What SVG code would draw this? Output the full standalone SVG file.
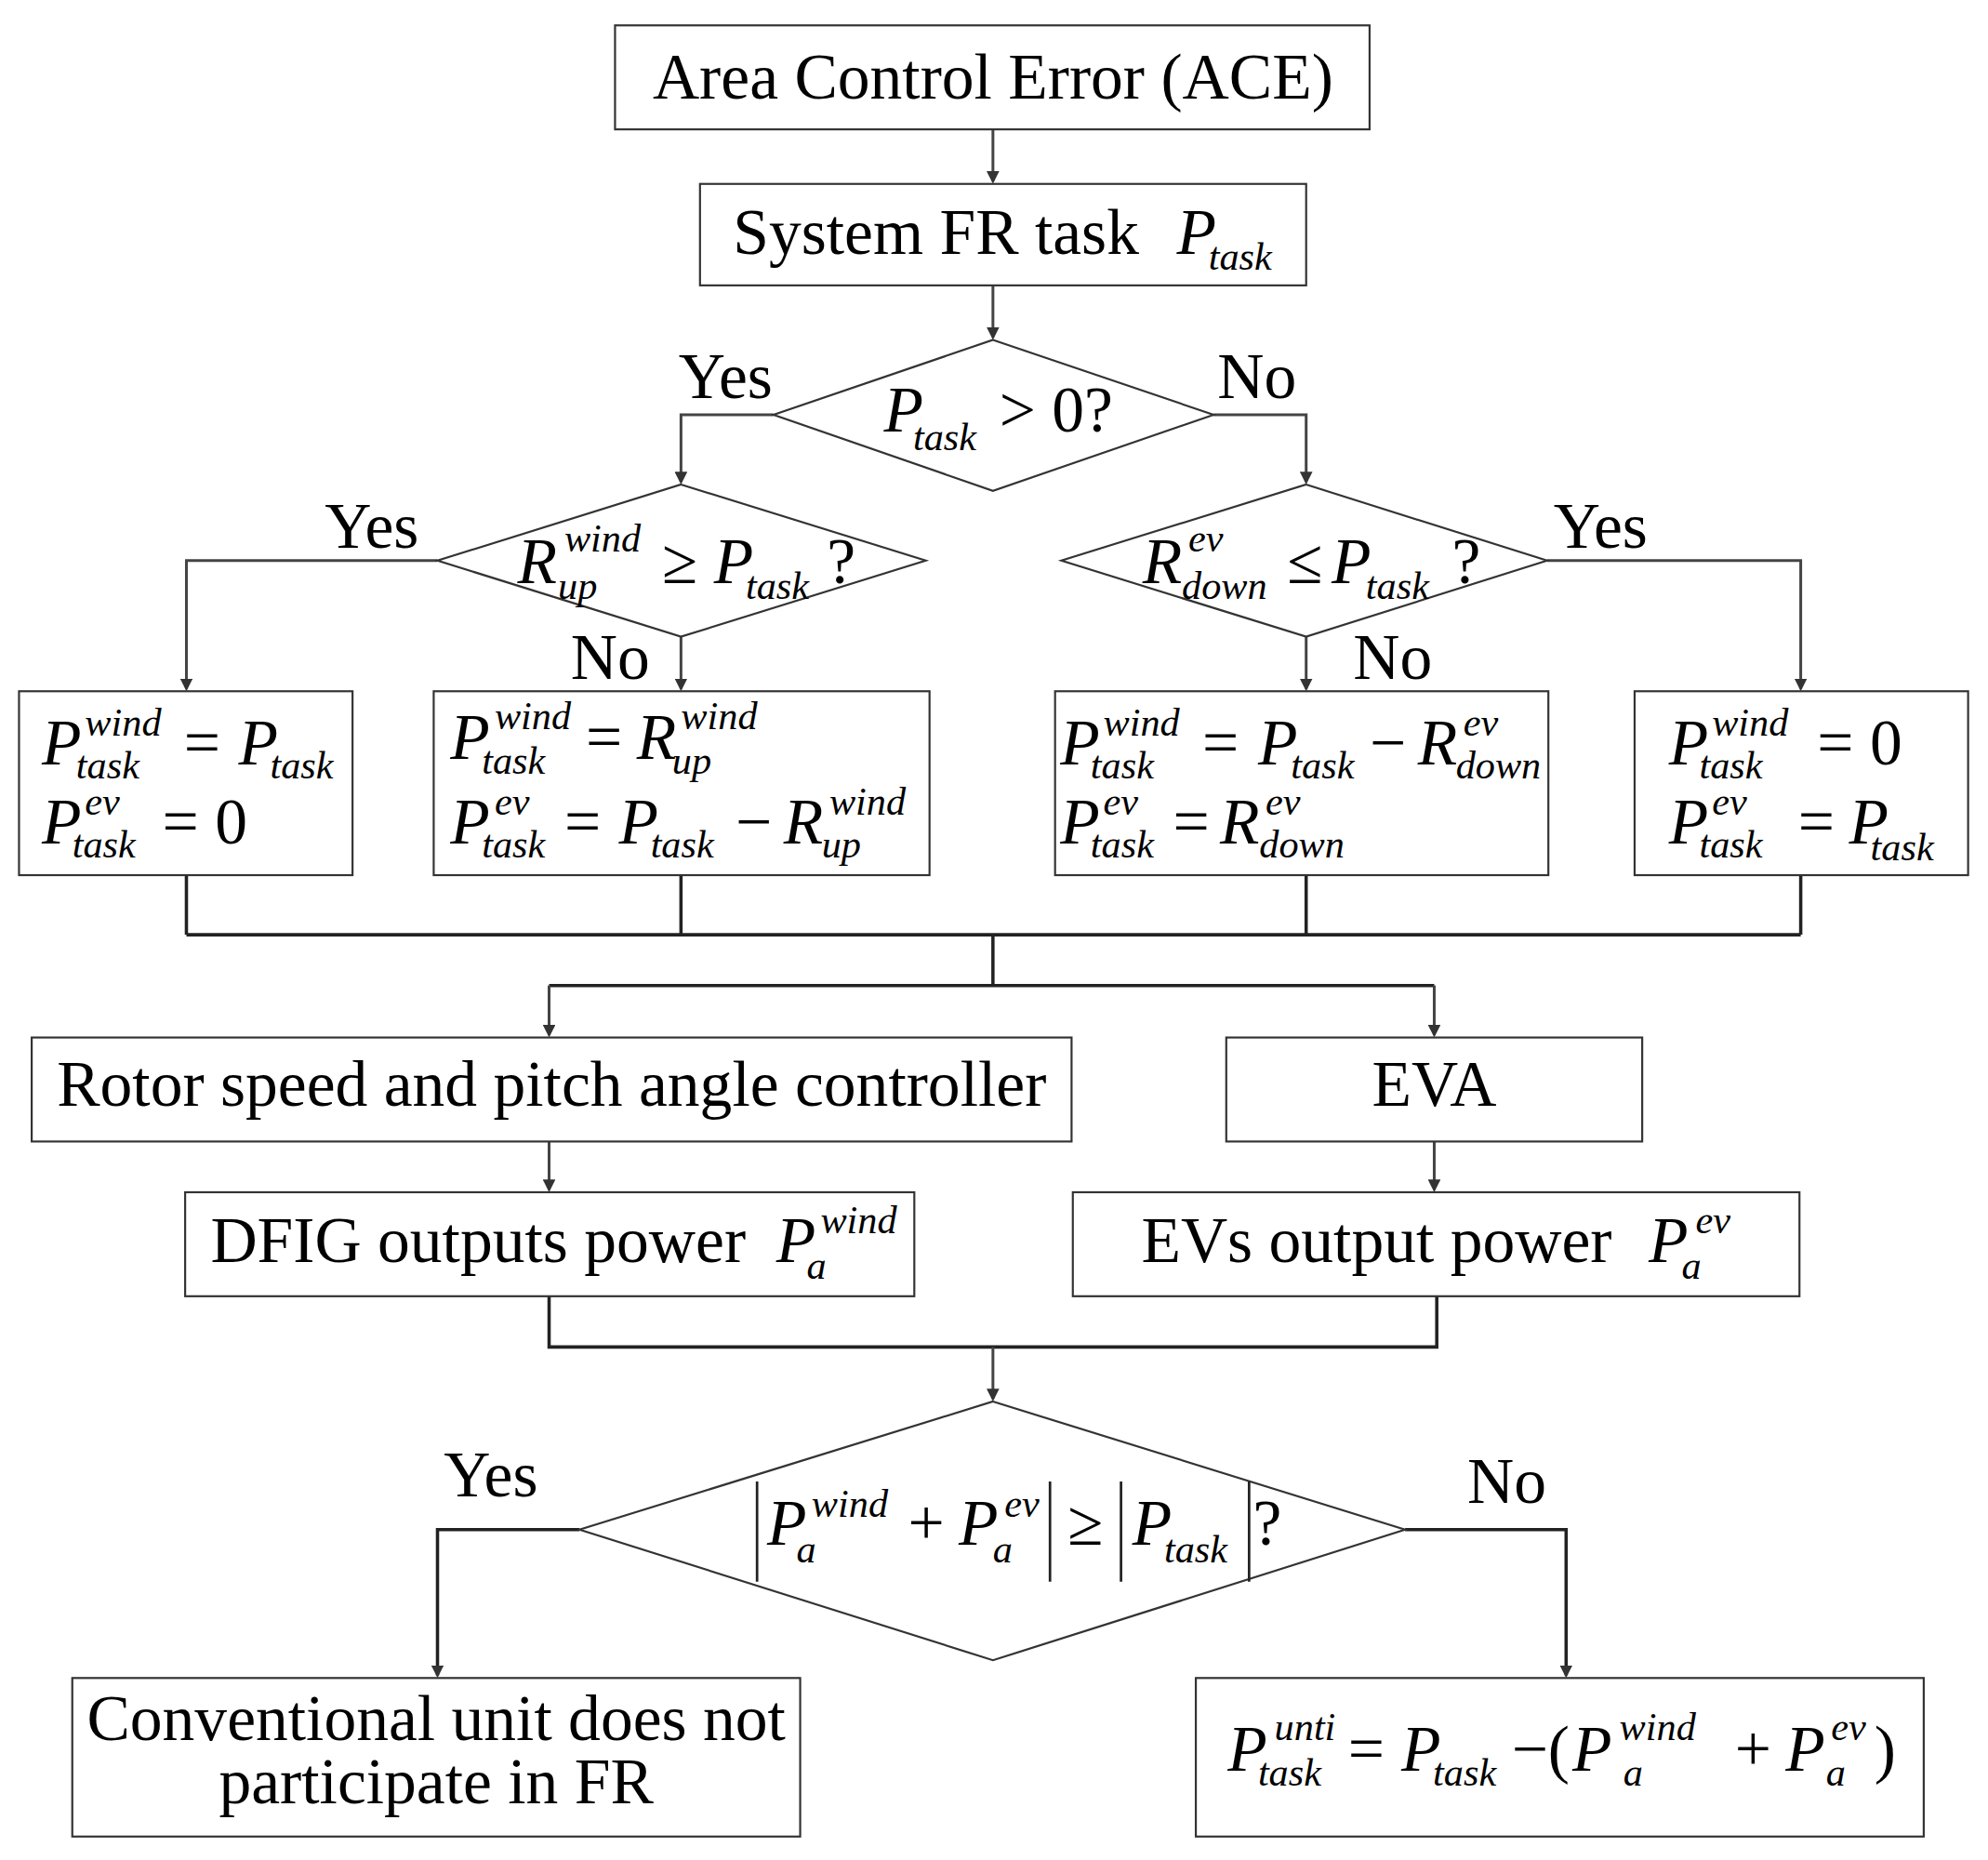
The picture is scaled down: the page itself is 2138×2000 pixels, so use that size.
<svg xmlns="http://www.w3.org/2000/svg" width="2138" height="2000" viewBox="0 0 2138 2000">
<style>
.b{fill:#fff;stroke:#333;stroke-width:1.6}
.l{fill:none;stroke:#222;stroke-width:2.6}
.a{fill:none;stroke:#444;stroke-width:2.2}
text{font-family:"Liberation Serif",serif;font-size:51px;fill:#000}
.i{font-style:italic}
.s{font-style:italic;font-size:31px}
.m{text-anchor:middle}
</style>
<defs><marker id="ar" markerWidth="10" markerHeight="10" refX="8" refY="5" orient="auto" markerUnits="userSpaceOnUse"><path d="M0,0L10,5L0,10z" fill="#333"/></marker></defs>
<rect width="2138" height="2000" fill="#fff"/>
<g transform="scale(1.3638)">
<g id="connectors">
<path class="a" d="M783,102V143" marker-end="url(#ar)"/>
<path class="a" d="M783,225V266" marker-end="url(#ar)"/>
<path class="a" d="M610,327H537V380" marker-end="url(#ar)"/>
<path class="a" d="M957,327H1030V380" marker-end="url(#ar)"/>
<path class="a" d="M345,442H147V543" marker-end="url(#ar)"/>
<path class="a" d="M537,502V543" marker-end="url(#ar)"/>
<path class="a" d="M1030,502V543" marker-end="url(#ar)"/>
<path class="a" d="M1220,442H1420V543" marker-end="url(#ar)"/>
<path class="l" d="M147,690V737M537,690V737M1030,690V737M1420,690V737M147,737H1420M783,737V777M433,777H1131"/>
<path class="a" d="M433,777V816" marker-end="url(#ar)"/>
<path class="a" d="M1131,777V816" marker-end="url(#ar)"/>
<path class="a" d="M433,900V938" marker-end="url(#ar)"/>
<path class="a" d="M1131,900V938" marker-end="url(#ar)"/>
<path class="l" d="M433,1022V1062H1133V1022"/>
<path class="a" d="M783,1062V1103" marker-end="url(#ar)"/>
<path class="l" d="M457,1206H345V1321" marker-end="url(#ar)"/>
<path class="l" d="M1108,1206H1235V1321" marker-end="url(#ar)"/>
</g>
<g id="ace"><rect class="b" x="485" y="20" width="595" height="82"/><text class="m" x="783" y="78">Area Control Error (ACE)</text></g>
<g id="sys"><rect class="b" x="552" y="145" width="478" height="80"/><text x="578" y="200">System FR task</text><text class="i" x="928" y="200">P</text><text class="s" x="953" y="213">task</text></g>
<g id="d1"><polygon class="b" points="783,268 957,327 783,387 610,327"/><text class="i" x="697" y="340">P</text><text class="s" x="720" y="355">task</text><text x="788" y="340">&gt; 0?</text></g>
<text x="535" y="314">Yes</text><text x="960" y="314">No</text>
<g id="d2"><polygon class="b" points="537,382 730,442 537,502 345,442"/><text class="i" x="408" y="460">R</text><text class="s" x="445" y="435">wind</text><text class="s" x="440" y="472">up</text><text x="522" y="460">≥</text><text class="i" x="563" y="460">P</text><text class="s" x="588" y="472">task</text><text x="652" y="460">?</text></g>
<g id="d3"><polygon class="b" points="1030,382 1220,442 1030,502 837,442"/><text class="i" x="901" y="460">R</text><text class="s" x="937" y="435">ev</text><text class="s" x="932" y="472">down</text><text x="1015" y="460">≤</text><text class="i" x="1050" y="460">P</text><text class="s" x="1077" y="472">task</text><text x="1145" y="460">?</text></g>
<text x="256" y="432">Yes</text><text x="1225" y="432">Yes</text><text x="450" y="535">No</text><text x="1067" y="535">No</text>
<g id="bA"><rect class="b" x="15" y="545" width="263" height="145"/>
<text class="i" x="33" y="603">P</text><text class="s" x="67" y="580">wind</text><text class="s" x="60" y="614">task</text><text x="145" y="603">=</text><text class="i" x="188" y="603">P</text><text class="s" x="213" y="614">task</text>
<text class="i" x="33" y="665">P</text><text class="s" x="67" y="642">ev</text><text class="s" x="57" y="676">task</text><text x="128" y="665">= 0</text></g>
<g id="bB"><rect class="b" x="342" y="545" width="391" height="145"/>
<text class="i" x="355" y="598">P</text><text class="s" x="390" y="575">wind</text><text class="s" x="380" y="610">task</text><text x="462" y="598">=</text><text class="i" x="502" y="598">R</text><text class="s" x="537" y="575">wind</text><text class="s" x="530" y="610">up</text>
<text class="i" x="355" y="665">P</text><text class="s" x="390" y="642">ev</text><text class="s" x="380" y="676">task</text><text x="445" y="665">=</text><text class="i" x="488" y="665">P</text><text class="s" x="513" y="676">task</text><text x="580" y="665">−</text><text class="i" x="618" y="665">R</text><text class="s" x="654" y="642">wind</text><text class="s" x="648" y="676">up</text></g>
<g id="bC"><rect class="b" x="832" y="545" width="389" height="145"/>
<text class="i" x="836" y="603">P</text><text class="s" x="870" y="580">wind</text><text class="s" x="860" y="614">task</text><text x="948" y="603">=</text><text class="i" x="992" y="603">P</text><text class="s" x="1018" y="614">task</text><text x="1080" y="603">−</text><text class="i" x="1118" y="603">R</text><text class="s" x="1154" y="580">ev</text><text class="s" x="1148" y="614">down</text>
<text class="i" x="836" y="665">P</text><text class="s" x="870" y="642">ev</text><text class="s" x="860" y="676">task</text><text x="925" y="665">=</text><text class="i" x="962" y="665">R</text><text class="s" x="998" y="642">ev</text><text class="s" x="993" y="676">down</text></g>
<g id="bD"><rect class="b" x="1289" y="545" width="263" height="145"/>
<text class="i" x="1316" y="603">P</text><text class="s" x="1350" y="580">wind</text><text class="s" x="1340" y="614">task</text><text x="1433" y="603">= 0</text>
<text class="i" x="1316" y="665">P</text><text class="s" x="1350" y="642">ev</text><text class="s" x="1340" y="676">task</text><text x="1418" y="665">=</text><text class="i" x="1458" y="665">P</text><text class="s" x="1475" y="678">task</text></g>
<g id="rotor"><rect class="b" x="25" y="818" width="820" height="82"/><text class="m" x="435" y="872">Rotor speed and pitch angle controller</text></g>
<g id="eva"><rect class="b" x="967" y="818" width="328" height="82"/><text class="m" x="1131" y="872">EVA</text></g>
<g id="dfig"><rect class="b" x="146" y="940" width="575" height="82"/><text x="166" y="995">DFIG outputs power</text><text class="i" x="612" y="995">P</text><text class="s" x="647" y="972">wind</text><text class="s" x="636" y="1008">a</text></g>
<g id="evs"><rect class="b" x="846" y="940" width="573" height="82"/><text x="900" y="995">EVs output power</text><text class="i" x="1300" y="995">P</text><text class="s" x="1337" y="972">ev</text><text class="s" x="1326" y="1008">a</text></g>
<g id="d4"><polygon class="b" points="783,1105 1108,1206 783,1309 457,1206"/>
<path class="l" d="M597,1168V1247M828,1168V1247M884,1168V1247M985,1168V1247" style="stroke-width:2"/>
<text class="i" x="605" y="1218">P</text><text class="s" x="640" y="1196">wind</text><text class="s" x="628" y="1232">a</text><text x="716" y="1218">+</text><text class="i" x="756" y="1218">P</text><text class="s" x="792" y="1196">ev</text><text class="s" x="783" y="1232">a</text><text x="842" y="1218">≥</text><text class="i" x="893" y="1218">P</text><text class="s" x="918" y="1232">task</text><text x="988" y="1218">?</text></g>
<text x="350" y="1180">Yes</text><text x="1157" y="1185">No</text>
<g id="conv"><rect class="b" x="57" y="1323" width="574" height="125"/><text class="m" x="344" y="1372">Conventional unit does not</text><text class="m" x="344" y="1422">participate in FR</text></g>
<g id="unit"><rect class="b" x="943" y="1323" width="574" height="125"/>
<text class="i" x="968" y="1396">P</text><text class="s" x="1005" y="1372">unti</text><text class="s" x="992" y="1408">task</text><text x="1063" y="1396">=</text><text class="i" x="1105" y="1396">P</text><text class="s" x="1130" y="1408">task</text><text x="1192" y="1396">−(</text><text class="i" x="1240" y="1396">P</text><text class="s" x="1277" y="1372">wind</text><text class="s" x="1280" y="1408">a</text><text x="1368" y="1396">+</text><text class="i" x="1408" y="1396">P</text><text class="s" x="1444" y="1372">ev</text><text class="s" x="1440" y="1408">a</text><text x="1478" y="1396">)</text></g>
</g>
</svg>
